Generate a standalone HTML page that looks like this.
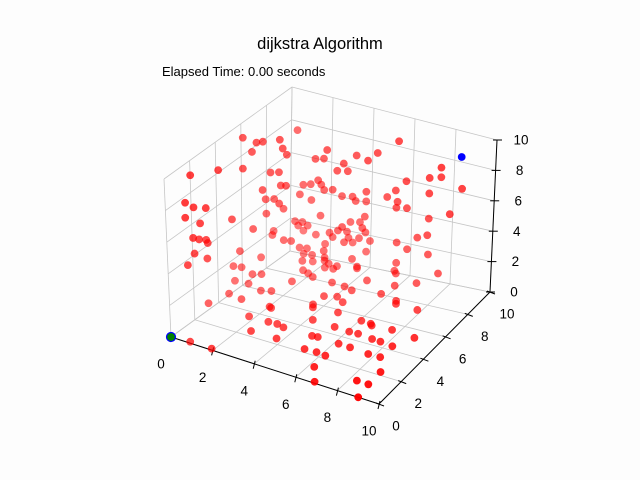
<!DOCTYPE html>
<html><head><meta charset="utf-8"><style>
html,body{margin:0;padding:0;background:#fff;}
svg{display:block;font-family:"Liberation Sans","DejaVu Sans",sans-serif;}
</style></head><body>
<svg id="chart" width="640" height="480" viewBox="0 0 640 480" xmlns="http://www.w3.org/2000/svg">
<rect x="0" y="0" width="640" height="480" fill="#fdfdfd"/>
<text x="320" y="49" font-size="16.5" text-anchor="middle" fill="#000">dijkstra Algorithm</text>
<text x="162" y="76" font-size="13" fill="#000">Elapsed Time: 0.00 seconds</text>
<g id="grid"></g>
<g id="axes"></g>
<g id="pts"></g>
</svg>
<script>
const ticks = [0, 2, 4, 6, 8, 10];
const tickLabels = ["0", "2", "4", "6", "8", "10"];
const nodeX = [1.5,0.6,1.0,1.2,1.75,1.9,0.9,2.0,0.2,0.6,0.9,1.5,1.8,1.3,1.8,2.0,0.3,0.5,0.7,1.2,1.5,1.85,1.65,0.3,0.5,0.7,1.2,1.0,1.0,1.1,0.5,0.5,0.5,0.4,1.7,2.0,0.3,0.5,0.95,0.4,
2.65,2.95,3.3,3.85,3.6,2.7,2.05,2.3,2.7,3.0,3.3,2.0,2.35,3.6,2.7,1.7,2.0,2.05,1.7,1.8,3.1,3.6,3.9,2.4,3.1,2.8,3.7,2.0,2.3,2.1,2.45,3.0,3.0,
6.15,4.3,5.25,4.9,4.0,8.1,7.5,7.9,6.5,8.8,4.0,4.0,4.4,4.6,5.9,5.55,6.1,7.5,6.0,6.4,8.45,4.35,7.3,3.75,4.1,4.4,3.7,3.7,4.1,4.6,4.4,3.75,6.75,7.3,5.9,6.25,4.3,7.2,
0.2,0.26,0.6,0.97,1.3,2.2,2.44,3.0,3.1,3.6,3.1,3.45,2.4,2.7,3.0,4.05,4.4,4.3,5.8,5.75,5.9,7.6,0.3,0.9,2.4,3.9,5.1,1.6,2.0,4.5,4.9,6.3,7.0,0.55,1.2,4.1,4.6,5.0,6.1,6.9,7.0,0.15,4.0,4.1,2.5,2.6,8.0,5.2,2.1,4.55,3.0,3.4,3.75,5.6,6.35,6.8,6.9,7.8,8.9,2.7,6.3,6.7,5.1,5.35,7.4,7.8,3.9,0.87,6.35,6.9,8.4,1.9,5.3,5.85,6.3,7.8,8.35,6.3,8.9,6.85,8.35,8.9,9.0];
const nodeY = [8.3,5.0,5.5,5.7,6.2,6.2,5.3,6.4,1.0,2.8,4.5,5.9,6.1,5.6,6.3,6.4,0.4,0.8,1.55,6.1,6.3,6.1,6.9,0.45,1.45,4.0,6.2,5.4,7.3,7.0,0.84,1.4,2.05,2.4,6.9,7.0,1.4,5.2,6.3,2.4,
7.8,8.0,7.6,8.1,8.0,8.0,7.9,8.1,8.3,8.0,8.2,7.7,8.1,8.5,8.3,7.9,8.0,8.4,8.2,8.5,8.4,8.2,8.0,8.5,8.7,8.6,8.6,7.8,7.9,8.0,8.1,8.1,8.2,
8.7,8.4,8.5,8.3,8.2,8.9,9.0,9.3,8.8,9.5,8.7,9.0,9.2,8.8,9.0,8.9,8.8,9.0,8.9,9.1,9.1,9.2,9.4,9.05,9.25,8.9,8.85,9.0,9.2,9.25,9.2,9.3,9.45,9.3,9.2,9.5,9.5,9.6,
1.0,5.1,5.2,5.5,5.7,7.7,8.2,8.2,8.4,8.2,8.05,8.15,7.4,7.3,7.15,8.7,8.5,8.7,9.4,9.35,9.2,9.8,5.2,5.3,6.4,7.2,8.1,5.1,5.3,7.2,7.1,8.35,9.0,4.2,4.1,6.1,6.35,6.1,7.5,7.35,7.15,3.1,5.3,5.1,4.2,4.15,7.2,5.3,3.1,4.25,3.15,3.2,3.1,4.25,5.25,5.25,5.15,5.3,5.25,2.15,4.25,4.3,3.15,3.2,4.25,4.25,2.2,0.1,3.2,3.2,4.2,0.1,2.1,2.15,2.1,3.15,3.2,1.1,2.2,0.1,1.1,1.1,0.0];
const nodeZ = [8,9.5,9,9,9,8.5,8.5,8,9.8,9,8,7,7,6,6,6,8.5,8,7.5,5,5,5,4,7.5,6.5,5,4,3.5,2,2,6,5.5,5,4.5,2,2,4.5,2,1,3.5,
7,7,8,7,6.5,5.5,5,5,5,5,5,4.5,4,4.5,3,2.5,2.5,2,2,1.5,2,2.5,3,1.5,1.5,1,1.5,1,1,0.5,0.5,1,0.5,
9,7.5,8,7.5,6.5,8,7,7,6.5,6.5,4.5,4,4,5,5.5,5,5,6,4.5,4.5,5,3,4,2.5,2.5,2.5,2,1.5,1.5,1.5,2,1,2.5,3,2,1.5,0.5,1.5,
4,1,1,0.5,0.5,0.3,0,0.3,0,0.2,0,0,0,0,0,0.5,0.3,0,0.5,0,0,0.3,
0,0,0,0,0,0,0,0,0,0,
0,0,0,0,0,0,0,0,0,0,
0,0,0,0,0,0,0,0,0,0,
0,0,0,0,0,0,0,0,0,0,
0,0,0,0,0,0,0,0,0,0,
0,0,0,0,0,0,0,0,0,0,
0];
const startNode = [0, 0, 0];
const endNode = [9.0, 9.0, 9.0];

const NS = "http://www.w3.org/2000/svg";
const C = {c000:[171,337],c100:[379,404],c010:[290,251],c110:[490,292],c001:[164,179],c101:[383,236],c011:[292,87],c111:[497,140]};
function lerp(a,b,t){return [a[0]+(b[0]-a[0])*t,a[1]+(b[1]-a[1])*t];}
function projBox(x,y,z){
  const u=x/10,v=y/10,w=z/10;
  const a=lerp(lerp(C.c000,C.c100,u),lerp(C.c010,C.c110,u),v);
  const b=lerp(lerp(C.c001,C.c101,u),lerp(C.c011,C.c111,u),v);
  return lerp(a,b,w);
}
function proj(x,y,z){
  return [171+20.8*x+11.1*y+0.4*z, 337+6.7*x-11.2*y-15.5*z];
}
function line(g,p,q,stroke,w,name){
  const l=document.createElementNS(NS,"line");
  l.setAttribute("x1",p[0]);l.setAttribute("y1",p[1]);l.setAttribute("x2",q[0]);l.setAttribute("y2",q[1]);
  l.setAttribute("stroke",stroke);l.setAttribute("stroke-width",w);
  
  
  g.appendChild(l);
}
function text(g,p,s,name,anchor){
  const t=document.createElementNS(NS,"text");
  t.setAttribute("x",p[0]);t.setAttribute("y",p[1]);t.setAttribute("font-size","13.5");
  t.setAttribute("text-anchor",anchor||"middle");t.setAttribute("dominant-baseline","middle");
  t.textContent=s;
  
  
  g.appendChild(t);
}
const grid=document.getElementById("grid");
const gc="#c6c6c6";
ticks.forEach(function(t){
  line(grid,projBox(t,0,0),projBox(t,10,0),gc,0.8,"floor-gridline-x");
  line(grid,projBox(0,t,0),projBox(10,t,0),gc,0.8,"floor-gridline-y");
  line(grid,projBox(0,t,0),projBox(0,t,10),gc,0.8,"left-wall-gridline-y");
  line(grid,projBox(0,0,t),projBox(0,10,t),gc,0.8,"left-wall-gridline-z");
  line(grid,projBox(t,10,0),projBox(t,10,10),gc,0.8,"back-wall-gridline-x");
  line(grid,projBox(0,10,t),projBox(10,10,t),gc,0.8,"back-wall-gridline-z");
});
const ax=document.getElementById("axes");
line(ax,projBox(0,0,0),projBox(10,0,0),"#000",1,"x-axis-line");
line(ax,projBox(10,0,0),projBox(10,10,0),"#000",1,"y-axis-line");
line(ax,projBox(10,10,0),projBox(10,10,10),"#000",1,"z-axis-line");
ticks.forEach(function(t,i){
  const px=projBox(t,0,0);
  line(ax,[px[0]+1,px[1]-3],[px[0]-1,px[1]+5],"#000",1,"x-tick");
  text(ax,[px[0]-10,px[1]+28],tickLabels[i],"x-tick-label");
  const py=projBox(10,t,0);
  line(ax,[py[0]-3,py[1]-1],[py[0]+5,py[1]+2],"#000",1,"y-tick");
  text(ax,[py[0]+17,py[1]+23],tickLabels[i],"y-tick-label");
  const pz=projBox(10,10,t);
  line(ax,[pz[0]-4,pz[1]],[pz[0]+5,pz[1]],"#000",1,"z-tick");
  text(ax,[pz[0]+24,pz[1]+1],tickLabels[i],"z-tick-label");
});
const pg=document.getElementById("pts");
const n=Math.min(nodeX.length,nodeY.length,nodeZ.length);
const order=[];
for(let i=0;i<n;i++){order.push(i);}
function depth(i){return nodeX[i]-nodeY[i]+0.3*nodeZ[i];}
order.sort(function(a,b){return depth(a)-depth(b);});
order.forEach(function(i){
  const p=proj(nodeX[i],nodeY[i],nodeZ[i]);
  const s=Math.max(0,Math.min(1,(depth(i)+10)/20));
  const c=document.createElementNS(NS,"circle");
  c.setAttribute("cx",p[0]);c.setAttribute("cy",p[1]);c.setAttribute("r",3.9);
  c.setAttribute("fill","#ff0000");c.setAttribute("fill-opacity",(0.4+0.6*s).toFixed(2));
  
  
  pg.appendChild(c);
});
(function(){
  const p=proj(endNode[0],endNode[1],endNode[2]);
  const c=document.createElementNS(NS,"circle");
  c.setAttribute("cx",p[0]);c.setAttribute("cy",p[1]);c.setAttribute("r",3.9);c.setAttribute("fill","#0000ff");
  
  
  pg.appendChild(c);
  const q=proj(startNode[0],startNode[1],startNode[2]);
  const g=document.createElementNS(NS,"circle");
  g.setAttribute("cx",q[0]);g.setAttribute("cy",q[1]);g.setAttribute("r",4.5);g.setAttribute("fill","#008000");
  g.setAttribute("stroke","#0000ff");g.setAttribute("stroke-width","1.2");
  
  
  pg.appendChild(g);
})();
</script>
</body></html>
